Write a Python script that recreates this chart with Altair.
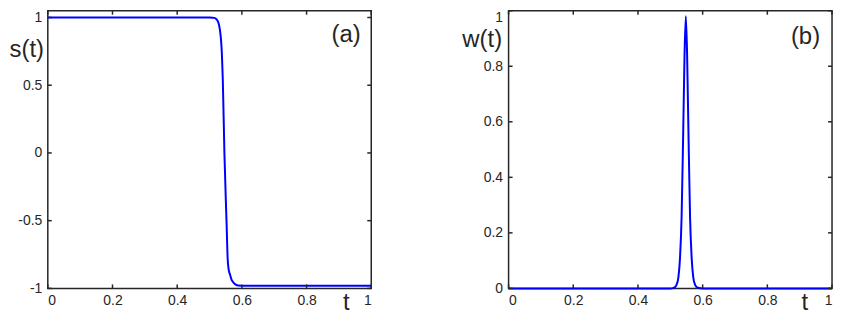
import altair as alt
import pandas as pd

# panel (a): s(t)
t_s = [0.0, 0.2, 0.4, 0.5, 0.51, 0.515, 0.52, 0.525, 0.528, 0.532, 0.535, 0.538,
       0.541, 0.546, 0.553, 0.556, 0.5585, 0.5635, 0.568, 0.5735, 0.58, 0.589,
       0.6, 0.8, 1.0]
s_vals = [1.0, 1.0, 1.0, 1.0, 0.999, 0.997, 0.99, 0.975, 0.957, 0.91, 0.85, 0.743,
          0.544, 0.0, -0.54, -0.777, -0.85, -0.90, -0.935, -0.955, -0.97, -0.979,
          -0.98, -0.98, -0.98]

# panel (b): w(t)
t_w = [0.0, 0.2, 0.4, 0.5, 0.51, 0.515, 0.52, 0.525, 0.53, 0.535, 0.54, 0.544,
       0.548, 0.552, 0.556, 0.561, 0.566, 0.571, 0.576, 0.581, 0.586, 0.6, 0.8, 1.0]
w_vals = [0.0, 0.0, 0.0, 0.0, 0.002, 0.005, 0.015, 0.04, 0.11, 0.26, 0.57, 0.84,
          0.98, 0.84, 0.57, 0.26, 0.11, 0.04, 0.015, 0.005, 0.002, 0.0, 0.0, 0.0]

x_ticks = [0, 0.2, 0.4, 0.6, 0.8, 1]
s_ticks = [-1, -0.5, 0, 0.5, 1]
w_ticks = [0, 0.2, 0.4, 0.6, 0.8, 1]

FONT = "Liberation Sans"
INK = "#262626"
W1, W2, H = 325, 325, 279
TL = 4  # tick length


def panel(t, v, ticks, ydom, ylabel, ytitle_x, ytitle_y, xtitle_frac, tag, tag_pos,
          width, top_flush):
    df = pd.DataFrame({"t": t, "v": v})
    xs = alt.Scale(domain=[0, 1], nice=False, zero=False)
    ys = alt.Scale(domain=ydom, nice=False, zero=False)
    xaxis = alt.Axis(values=x_ticks, grid=False, ticks=False, domain=False,
                     labelFont=FONT, labelFontSize=14, labelColor=INK, labelPadding=5,
                     labelExpr="'' + datum.value",
                     title="t", titleFont=FONT, titleFontSize=24, titleFontWeight="normal",
                     titleColor=INK, titleAngle=0, titleX=xtitle_frac * width, titleY=21,
                     titleAlign="center", titleBaseline="alphabetic")
    ykw = {}
    if top_flush:
        ykw["labelBaseline"] = {"condition": {"test": "datum.value == 1", "value": "top"},
                                "value": "middle"}
    yaxis = alt.Axis(values=ticks, grid=False, ticks=False, domain=False,
                     labelFont=FONT, labelFontSize=14, labelColor=INK, labelPadding=6,
                     labelExpr="'' + datum.value",
                     title=ylabel, titleFont=FONT, titleFontSize=24, titleFontWeight="normal",
                     titleColor=INK, titleAngle=0, titleX=ytitle_x, titleY=ytitle_y,
                     titleAlign="left", titleBaseline="middle", **ykw)
    line = alt.Chart(df).mark_line(color="#0000FF", strokeWidth=2, interpolate="monotone").encode(
        x=alt.X("t:Q", scale=xs, axis=xaxis),
        y=alt.Y("v:Q", scale=ys, axis=yaxis),
    )
    xt = pd.DataFrame({"t": x_ticks})
    yt = pd.DataFrame({"v": ticks})
    bot = alt.Chart(xt).mark_rule(color=INK, strokeWidth=1.5).encode(
        x=alt.X("t:Q", scale=xs), y=alt.value(H), y2=alt.value(H - TL))
    top = alt.Chart(xt).mark_rule(color=INK, strokeWidth=1.5).encode(
        x=alt.X("t:Q", scale=xs), y=alt.value(0), y2=alt.value(TL))
    left = alt.Chart(yt).mark_rule(color=INK, strokeWidth=1.5).encode(
        y=alt.Y("v:Q", scale=ys), x=alt.value(0), x2=alt.value(TL))
    right = alt.Chart(yt).mark_rule(color=INK, strokeWidth=1.5).encode(
        y=alt.Y("v:Q", scale=ys), x=alt.value(width - TL), x2=alt.value(width))
    tdf = pd.DataFrame({"t": [tag_pos[0]], "v": [tag_pos[1]], "lab": [tag]})
    txt = alt.Chart(tdf).mark_text(font=FONT, fontSize=24, color=INK, baseline="middle",
                                   align="center").encode(
        x=alt.X("t:Q", scale=xs), y=alt.Y("v:Q", scale=ys), text="lab:N")
    return alt.layer(line, bot, top, left, right, txt).properties(width=width, height=H)


pa = panel(t_s, s_vals, s_ticks, [-1, 1.05], "s(t)", -39, 39, 0.921,
           "(a)", (0.922, 0.87), W1, False)
pb = panel(t_w, w_vals, w_ticks, [0, 1], "w(t)", -47, 28.5, 0.914,
           "(b)", (0.918, 0.905), W2, True)

chart = alt.hconcat(pa, pb, spacing=85).configure_view(
    stroke=INK, strokeWidth=1.5
).properties(padding=0)

chart.save("out.html", embed_options={"renderer": "svg", "actions": False})
